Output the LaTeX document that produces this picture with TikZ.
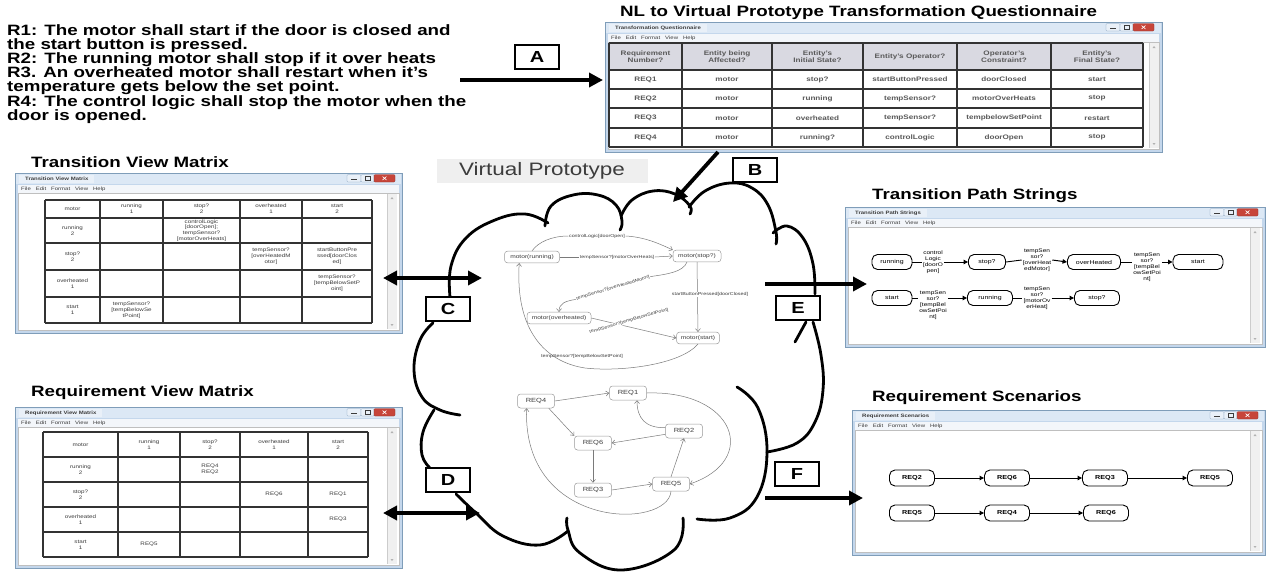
\documentclass[tikz,border=0pt]{standalone}
\usepackage{fontspec}
\setmainfont[FakeStretch=1.25]{Liberation Sans}
\usetikzlibrary{arrows.meta,calc}

\definecolor{frameblue}{HTML}{C4D7EC}
\definecolor{frameedge}{HTML}{7F9DB9}
\definecolor{barblue}{HTML}{DCE8F5}
\definecolor{tabface}{HTML}{E9F0F8}
\definecolor{menuface}{HTML}{F3F6FA}
\definecolor{closered}{HTML}{C7453A}
\definecolor{hdrgray}{HTML}{D9D9E1}
\definecolor{inkgray}{HTML}{3C3C3C}
\definecolor{linegray}{HTML}{7A7A7A}
\definecolor{vpgray}{HTML}{EFEFEF}

% Windows-7 style application frame: name, x0, y0, x1, y1, caption
\newcommand\appwindow[6]{%
  \fill[frameblue] (#2,#3) rectangle (#4,#5);
  \draw[frameedge, line width=0.6pt] (#2,#3) rectangle (#4,#5);
  \fill[barblue] (#2+1,#3+1) rectangle (#4-1,#3+11);
  \node[wintab, anchor=north west] (#1-tab) at (#2+4,#3+1.5) {#6};
  \fill[menuface] (#2+3,#3+12) rectangle (#4-3,#3+19.5);
  \node[winmenu, anchor=west] (#1-menu) at (#2+6,#3+15.8)
    {File\hspace{5pt}Edit\hspace{5pt}Format\hspace{5pt}View\hspace{5pt}Help};
  \fill[white] (#2+3,#3+20) rectangle (#4-3,#5-3);
  \draw[gray!50, line width=0.3pt] (#2+3,#3+20) rectangle (#4-3,#5-3);
}
% minimise / maximise / close buttons: right edge x, top y
\newcommand\winbuttons[2]{%
  \draw[frameedge, fill=tabface, line width=0.3pt, rounded corners=1pt] (#1-52,#2+1.5) rectangle (#1-38,#2+9);
  \draw[frameedge, fill=tabface, line width=0.3pt, rounded corners=1pt] (#1-38,#2+1.5) rectangle (#1-25,#2+9);
  \draw[closered!70!black, fill=closered, line width=0.3pt, rounded corners=1pt] (#1-25,#2+1.5) rectangle (#1-4,#2+9);
  \draw[white, line width=0.6pt] (#1-16.5,#2+3.5) -- (#1-12.5,#2+7) (#1-16.5,#2+7) -- (#1-12.5,#2+3.5);
  \draw[inkgray, line width=0.5pt] (#1-48,#2+6.5) -- (#1-42,#2+6.5);
  \draw[inkgray, line width=0.4pt] (#1-34,#2+3.5) rectangle (#1-29,#2+7);
}
% vertical scrollbar: inner right x, top y, bottom y
\newcommand\winscroll[3]{%
  \fill[gray!12] (#1-10,#2) rectangle (#1,#3);
  \draw[gray!40, line width=0.3pt] (#1-10,#2) -- (#1-10,#3);
  \fill[gray!60] (#1-6.5,#2+5) -- (#1-3.5,#2+5) -- (#1-5,#2+3) -- cycle;
  \fill[gray!60] (#1-6.5,#3-5) -- (#1-3.5,#3-5) -- (#1-5,#3-3) -- cycle;
}

\begin{document}
\begin{tikzpicture}[x=1pt,y=-1pt,
  reqtext/.style={font=\fontsize{15}{14.2}\selectfont\bfseries, align=left, inner sep=0pt, anchor=north west},
  paneltitle/.style={font=\fontsize{15}{15}\selectfont\bfseries, inner sep=0pt, anchor=west},
  letterbox/.style={draw, line width=2.6pt, fill=white, minimum width=44pt, minimum height=24pt, inner sep=0pt, font=\fontsize{16}{16}\selectfont\bfseries},
  bigarrow/.style={line width=3.8pt, -{Triangle[length=14pt,width=14pt]}},
  dblarrow/.style={line width=3.8pt, {Triangle[length=14pt,width=14pt]}-{Triangle[length=14pt,width=14pt]}},
  cloudline/.style={line width=2.8pt, line cap=round, line join=round},
  wintab/.style={fill=tabface, font=\fontsize{4.8}{5}\selectfont\bfseries, text=inkgray, inner xsep=6pt, inner ysep=1.5pt, minimum height=8.5pt},
  winmenu/.style={font=\fontsize{4.8}{5}\selectfont, text=inkgray, inner sep=0pt},
  tablegrid/.style={draw=black!80, line width=1.1pt},
  cell/.style={font=\fontsize{5}{5.8}\selectfont, align=center, text=inkgray, inner sep=0pt},
  qcell/.style={font=\fontsize{6.5}{7}\selectfont\bfseries, align=center, text=inkgray!85, inner sep=0pt},
  stnode/.style={draw=gray!80, line width=0.5pt, rounded corners=3pt, fill=white, font=\fontsize{5.3}{6}\selectfont, text=inkgray, inner xsep=2pt, minimum height=11pt},
  reqstate/.style={stnode, minimum width=37pt, minimum height=14pt, font=\fontsize{6}{6}\selectfont},
  flow/.style={draw=linegray, line width=0.5pt, -{Straight Barb[length=3pt,width=5pt]}},
  flowplain/.style={draw=linegray, line width=0.5pt},
  tlabel/.style={font=\fontsize{4.3}{5}\selectfont, text=inkgray, inner sep=0.5pt},
  pathnode/.style={draw, line width=0.9pt, rounded corners=5.5pt, minimum height=15pt, inner sep=1pt, font=\fontsize{5.6}{6}\selectfont},
  pathlabel/.style={font=\fontsize{5.2}{6}\selectfont, align=center, inner sep=1pt},
  pathline/.style={line width=0.9pt},
  patharrow/.style={line width=1pt, -{Triangle[length=4.5pt,width=4.5pt]}},
  rsnode/.style={draw, line width=0.9pt, rounded corners=5.5pt, minimum width=45pt, minimum height=16pt, inner sep=1pt, font=\fontsize{5.8}{6}\selectfont\bfseries},
  rsarrow/.style={line width=1pt, -{Triangle[length=4.5pt,width=4.5pt]}},
]
\useasboundingbox (0,0) rectangle (1270,571);
\fill[white] (0,0) rectangle (1270,571);

% ---------- natural-language requirements ----------
\node[reqtext] (reqs) at (7,24) {R1: The motor shall start if the door is closed and\\
the start button is pressed.\\
R2: The running motor shall stop if it over heats\\
R3. An overheated motor shall restart when it's\\
temperature gets below the set point.\\
R4: The control logic shall stop the motor when the\\
door is opened.};

% ---------- panel titles ----------
\node[paneltitle] (qtitle) at (620,13) {NL to Virtual Prototype Transformation Questionnaire};
\node[paneltitle] (tvmtitle) at (31,162) {Transition View Matrix};
\node[paneltitle] (rvmtitle) at (31,393) {Requirement View Matrix};
\node[paneltitle] (tpstitle) at (872,196) {Transition Path Strings};
\node[paneltitle] (rstitle) at (872,398) {Requirement Scenarios};

% ---------- questionnaire window ----------
\appwindow{qwin}{605}{22}{1162}{152}{Transformation Questionnaire}
\winbuttons{1158}{22}
\winscroll{1159}{43}{148}
\fill[hdrgray] (609,43) rectangle (1143,70);
\foreach \x in {609,682,772,863,957,1051,1143} \draw[tablegrid] (\x,43) -- (\x,147);
\foreach \y in {43,70,89,108,128,147} \draw[tablegrid] (609,\y) -- (1143,\y);
\node[qcell] (q-h1) at (645.5,56.5) {Requirement\\Number?};
\node[qcell] (q-h2) at (727,56.5) {Entity being\\Affected?};
\node[qcell] (q-h3) at (817.5,56.5) {Entity's\\Initial State?};
\node[qcell] (q-h4) at (910,56.5) {Entity's Operator?};
\node[qcell] (q-h5) at (1004,56.5) {Operator's\\Constraint?};
\node[qcell] (q-h6) at (1097,56.5) {Entity's\\Final State?};
\foreach \r/\y/\a/\b/\c/\d/\e/\f in {
  1/79.5/REQ1/motor/stop?/startButtonPressed/doorClosed/start,
  2/98.5/REQ2/motor/running/tempSensor?/motorOverHeats/stop,
  3/118/REQ3/motor/overheated/tempSensor?/tempbelowSetPoint/restart,
  4/137.5/REQ4/motor/running?/controlLogic/doorOpen/stop}{
  \node[qcell] (q-\r-1) at (645.5,\y) {\a};
  \node[qcell] (q-\r-2) at (727,\y) {\b};
  \node[qcell] (q-\r-3) at (817.5,\y) {\c};
  \node[qcell] (q-\r-4) at (910,\y) {\d};
  \node[qcell] (q-\r-5) at (1004,\y) {\e};
  \node[qcell] (q-\r-6) at (1097,\y) {\f};
}

% ---------- transition view matrix window ----------
\appwindow{tvmwin}{15}{173}{402}{333}{Transition View Matrix}
\winbuttons{399}{173}
\winscroll{397}{194}{329}
\foreach \x in {45,100,163,240,302,372} \draw[tablegrid] (\x,200) -- (\x,323);
\foreach \y in {200,218,243,270,297,323} \draw[tablegrid] (45,\y) -- (372,\y);
\node[cell] (tvm-1-1) at (72.5,209) {motor};
\node[cell] (tvm-1-2) at (131.5,209) {running\\1};
\node[cell] (tvm-1-3) at (201.5,209) {stop?\\2};
\node[cell] (tvm-1-4) at (271,209) {overheated\\1};
\node[cell] (tvm-1-5) at (337,209) {start\\2};
\node[cell] (tvm-2-1) at (72.5,230.5) {running\\2};
\node[cell] (tvm-2-3) at (201.5,230.5) {controlLogic\\{}[doorOpen];\\tempSensor?\\{}[motorOverHeats]};
\node[cell] (tvm-3-1) at (72.5,256.5) {stop?\\2};
\node[cell] (tvm-3-4) at (271,256.5) {tempSensor?\\{}[overHeatedM\\otor]};
\node[cell] (tvm-3-5) at (337,256.5) {startButtonPre\\ssed[doorClos\\ed]};
\node[cell] (tvm-4-1) at (72.5,283.5) {overheated\\1};
\node[cell] (tvm-4-5) at (337,283.5) {tempSensor?\\{}[tempBelowSetP\\oint]};
\node[cell] (tvm-5-1) at (72.5,310) {start\\1};
\node[cell] (tvm-5-2) at (131.5,310) {tempSensor?\\{}[tempBelowSe\\tPoint]};

% ---------- requirement view matrix window ----------
\appwindow{rvmwin}{15}{407}{402}{568}{Requirement View Matrix}
\winbuttons{399}{407}
\winscroll{397}{428}{564}
\foreach \x in {43,118,180,240,308,368} \draw[tablegrid] (\x,432) -- (\x,557);
\foreach \y in {432,457,482,507,532,557} \draw[tablegrid] (43,\y) -- (368,\y);
\node[cell] (rvm-1-1) at (80.5,444.5) {motor};
\node[cell] (rvm-1-2) at (149,444.5) {running\\1};
\node[cell] (rvm-1-3) at (210,444.5) {stop?\\2};
\node[cell] (rvm-1-4) at (274,444.5) {overheated\\1};
\node[cell] (rvm-1-5) at (338,444.5) {start\\2};
\node[cell] (rvm-2-1) at (80.5,469.5) {running\\2};
\node[cell] (rvm-2-3) at (210,469.5) {REQ4\\REQ2};
\node[cell] (rvm-3-1) at (80.5,494.5) {stop?\\2};
\node[cell] (rvm-3-4) at (274,494.5) {REQ6};
\node[cell] (rvm-3-5) at (338,494.5) {REQ1};
\node[cell] (rvm-4-1) at (80.5,519.5) {overheated\\1};
\node[cell] (rvm-4-5) at (338,519.5) {REQ3};
\node[cell] (rvm-5-1) at (80.5,544.5) {start\\1};
\node[cell] (rvm-5-2) at (149,544.5) {REQ5};

% ---------- transition path strings window ----------
\appwindow{tpswin}{845}{207}{1265}{347}{Transition Path Strings}
\winbuttons{1262}{207}
\winscroll{1260}{228}{343}
\node[pathnode, minimum width=40pt] (t-run1) at (892,262) {running};
\node[pathlabel] (t-l1) at (933,262) {control\\Logic\\{}[doorO\\pen]};
\node[pathnode, minimum width=37pt] (t-stop1) at (987,262) {stop?};
\node[pathlabel] (t-l2) at (1037,260) {tempSen\\sor?\\{}[overHeat\\edMotor]};
\node[pathnode, minimum width=53pt] (t-over1) at (1094,262) {overHeated};
\node[pathlabel] (t-l3) at (1147,267) {tempSen\\sor?\\{}[tempBel\\owSetPoi\\nt]};
\node[pathnode, minimum width=50pt] (t-start1) at (1198,262) {start};
\draw[pathline] (t-run1.east) -- (t-l1.west);
\draw[patharrow] (t-l1.east) -- (t-stop1.west);
\draw[pathline] (t-stop1.east) -- (t-l2.west);
\draw[patharrow] (t-l2.east) -- (t-over1.west);
\draw[pathline] (t-over1.east) -- (t-l3.west |- t-over1.east);
\draw[patharrow] (t-l3.east |- t-start1.west) -- (t-start1.west);
\node[pathnode, minimum width=40pt] (t-start2) at (892,298) {start};
\node[pathlabel] (t-l4) at (933,305) {tempSen\\sor?\\{}[tempBel\\owSetPoi\\nt]};
\node[pathnode, minimum width=45pt] (t-run2) at (990,298) {running};
\node[pathlabel] (t-l5) at (1037,298) {tempSen\\sor?\\{}[motorOv\\erHeat]};
\node[pathnode, minimum width=45pt] (t-stop2) at (1097,298) {stop?};
\draw[pathline] (t-start2.east) -- (t-l4.west |- t-start2.east);
\draw[patharrow] (t-l4.east |- t-run2.west) -- (t-run2.west);
\draw[pathline] (t-run2.east) -- (t-l5.west);
\draw[patharrow] (t-l5.east) -- (t-stop2.west);

% ---------- requirement scenarios window ----------
\appwindow{rswin}{852}{410}{1265}{555}{Requirement Scenarios}
\winbuttons{1262}{410}
\winscroll{1260}{431}{551}
\node[rsnode] (s1-2) at (912,478) {REQ2};
\node[rsnode] (s1-6) at (1007,478) {REQ6};
\node[rsnode] (s1-3) at (1105,478) {REQ3};
\node[rsnode] (s1-5) at (1210,478) {REQ5};
\draw[rsarrow] (s1-2) -- (s1-6);
\draw[rsarrow] (s1-6) -- (s1-3);
\draw[rsarrow] (s1-3) -- (s1-5);
\node[rsnode] (s2-5) at (912,513) {REQ5};
\node[rsnode] (s2-4) at (1007,513) {REQ4};
\node[rsnode] (s2-6) at (1106,513) {REQ6};
\draw[rsarrow] (s2-5) -- (s2-4);
\draw[rsarrow] (s2-4) -- (s2-6);

% ---------- the virtual prototype cloud ----------
\node[fill=vpgray, minimum width=211pt, minimum height=24pt, inner sep=0pt,
      font=\fontsize{18}{18}\selectfont, text=inkgray] (vp) at (542,171) {Virtual Prototype};
\draw[cloudline] plot[smooth, tension=0.7] coordinates {(450,297) (451,266) (466,238) (495,220) (525,214) (548,223)};
\draw[cloudline] plot[smooth, tension=0.7] coordinates {(545,226) (551,206) (573,195) (598,195) (616,205) (622,221) (620,230)};
\draw[cloudline] plot[smooth, tension=0.7] coordinates {(621,216) (632,200) (653,191) (675,194) (690,206) (690,214)};
\draw[cloudline] plot[smooth, tension=0.7] coordinates {(689,207) (705,191) (730,183) (752,188) (768,205) (776,232) (776,244)};
\draw[cloudline] plot[smooth, tension=0.7] coordinates {(773,233) (787,226) (803,238) (813,264) (815,294)};
\draw[cloudline] plot[smooth, tension=0.7] coordinates {(813,322) (821,355) (823,390) (815,422) (797,443) (767,452)};
\draw[cloudline] (806,322) -- (795,342);
\draw[cloudline] plot[smooth, tension=0.7] coordinates {(737,387) (758,408) (767,452) (757,497) (730,518) (697,519)};
\draw[cloudline] plot[smooth, tension=0.7] coordinates {(683,518) (674,550) (622,570) (580,553) (568,530) (567,518)};
\draw[cloudline] plot[smooth, tension=0.7] coordinates {(568,531) (540,545) (503,536) (476,513) (456,494)};
\draw[cloudline] plot[smooth, tension=0.7] coordinates {(433,323) (420,340) (414,370) (422,397) (440,410) (460,415)};
\draw[cloudline] plot[smooth, tension=0.7] coordinates {(434,410) (423,432) (422,455) (430,468)};

% state machine of the motor
\node[stnode, minimum width=55pt] (mrun) at (532,257) {motor(running)};
\node[stnode, minimum width=48pt] (mstop) at (697,256) {motor(stop?)};
\node[stnode, minimum width=64pt] (mover) at (559,318) {motor(overheated)};
\node[stnode, minimum width=43pt] (mstart) at (698,338) {motor(start)};
\node[tlabel] (l1) at (597,236) {controlLogic[doorOpen]};
\draw[flowplain] (mrun.north) .. controls (538,242) and (552,236) .. (l1.west);
\draw[flow] (l1.east) .. controls (645,237) and (660,244) .. (mstop.north west);
\node[tlabel] (l2) at (617,257) {tempSensor?[motorOverHeats]};
\draw[flowplain] (mrun.east) -- (l2.west);
\draw[flow] (l2.east) -- (mstop.west);
\node[tlabel, rotate=17] (l3) at (613,288) {tempSensor?[overHeatedMotor]};
\draw[flowplain] ($(mstop.south)+(-10,0)$) .. controls (683,272) and (668,274) .. (l3.east);
\draw[flow] (l3.west) .. controls (566,301) and (559,303) .. (mover.north);
\draw[flow] (mstop.south) -- (mstart.north);
\node[tlabel, fill=white] (l4) at (710,294) {startButtonPressed[doorClosed]};
\draw[flow] (mover.east) -- (mstart.west);
\node[tlabel, fill=white, rotate=16] (l5) at (629,321) {tempSensor?[tempBelowSetPoint]};
\draw[flow] (mstart.south) .. controls (680,365) and (620,372) .. (585,368)
  .. controls (545,362) and (515,330) .. ($(mrun.south west)!0.27!(mrun.south east)$);
\node[tlabel] (l6) at (582,356) {tempSensor?[tempBelowSetPoint]};

% requirement dependency graph
\node[reqstate] (q4) at (536,401) {REQ4};
\node[reqstate] (q1) at (628,393) {REQ1};
\node[reqstate] (q2) at (684,431) {REQ2};
\node[reqstate] (q6) at (593,443) {REQ6};
\node[reqstate] (q3) at (593,490) {REQ3};
\node[reqstate] (q5) at (671,484) {REQ5};
\draw[flow] (q4.east) -- (q1.west);
\draw[flow] ($(q4.south east)+(-6,0)$) -- (q6.north west);
\draw[flow] (q2.190) -- (q6.east);
\draw[flow] (q2.170) .. controls (645,428) and (637,418) .. ($(q1.south)+(9,0)$);
\draw[flow] (q1.east) .. controls (735,390) and (760,460) .. (q5.east);
\draw[flow] (q6.south) -- (q3.north);
\draw[flow] (q3.east) -- (q5.west);
\draw[flow] (q5.north) -- (q2.south);
\draw[flow] (q5.south) .. controls (668,530) and (522,530) .. ($(q4.south west)!0.25!(q4.south east)$);

% ---------- letter markers and transfer arrows ----------
\coordinate (aS) at (460,80);   \coordinate (aT) at (603,80);
\coordinate (bS) at (718,152);  \coordinate (bT) at (673,202);
\coordinate (cL) at (383,278);  \coordinate (cR) at (482,278);
\coordinate (dL) at (383,513);  \coordinate (dR) at (480,513);
\coordinate (eS) at (765,284);  \coordinate (eT) at (867,284);
\coordinate (fS) at (765,498);  \coordinate (fT) at (863,498);
\node[letterbox] (boxA) at (537,57) {A};
\node[letterbox] (boxB) at (755,170) {B};
\node[letterbox] (boxC) at (448,309) {C};
\node[letterbox] (boxD) at (448,480) {D};
\node[letterbox] (boxE) at (798,308) {E};
\node[letterbox] (boxF) at (797,474) {F};
\draw[bigarrow] (aS) -- (aT);
\draw[bigarrow] (bS) -- (bT);
\draw[dblarrow] (cL) -- (cR);
\draw[dblarrow] (dL) -- (dR);
\draw[bigarrow] (eS) -- (eT);
\draw[bigarrow] (fS) -- (fT);
\end{tikzpicture}
\end{document}
